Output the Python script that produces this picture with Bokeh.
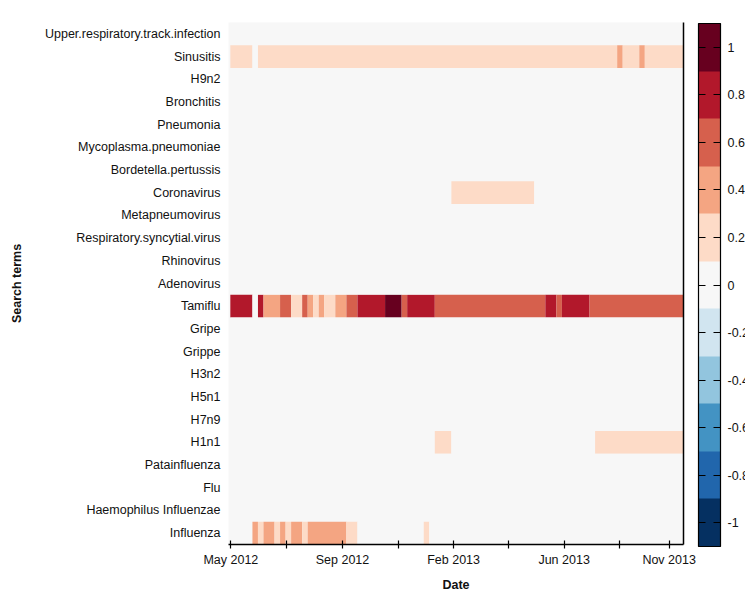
from bokeh.plotting import figure
from bokeh.models import (ColorBar, LinearColorMapper, FixedTicker, CustomJSTickFormatter,
                          FactorRange, Range1d, ColumnDataSource, LinearAxis)
from bokeh.embed import file_html
from bokeh.resources import INLINE

# ---------------- data ----------------
TERMS = ["Upper.respiratory.track.infection", "Sinusitis", "H9n2", "Bronchitis", "Pneumonia",
         "Mycoplasma.pneumoniae", "Bordetella.pertussis", "Coronavirus", "Metapneumovirus",
         "Respiratory.syncytial.virus", "Rhinovirus", "Adenovirus", "Tamiflu", "Gripe", "Grippe",
         "H3n2", "H5n1", "H7n9", "H1n1", "Patainfluenza", "Flu", "Haemophilus Influenzae",
         "Influenza"]
N_WEEKS = 82  # weekly values, May 2012 .. Dec 2013

# run-length encoded weekly values: (number of weeks, value)
SINUSITIS = [(4, 0.2), (1, 0.0), (65, 0.2), (1, 0.4), (3, 0.2), (1, 0.4), (7, 0.2)]
CORONAVIRUS = [(40, 0.0), (15, 0.2), (27, 0.0)]
TAMIFLU = [(4, 0.8), (1, 0.0), (1, 0.8), (3, 0.4), (2, 0.6), (2, 0.2), (1, 0.6), (1, 0.4),
           (1, 0.2), (1, 0.4), (2, 0.2), (2, 0.4), (2, 0.6), (5, 0.8), (3, 1.0), (1, 0.6),
           (5, 0.8), (20, 0.6), (2, 0.8), (1, 0.6), (5, 0.8), (17, 0.6)]
H1N1 = [(37, 0.0), (3, 0.2), (26, 0.0), (16, 0.2)]
INFLUENZA = [(4, 0.0), (1, 0.4), (1, 0.2), (2, 0.4), (1, 0.2), (1, 0.4), (1, 0.2), (2, 0.4),
             (1, 0.2), (7, 0.4), (2, 0.2), (12, 0.0), (1, 0.2), (46, 0.0)]
SERIES = {"Sinusitis": SINUSITIS, "Coronavirus": CORONAVIRUS, "Tamiflu": TAMIFLU,
          "H1n1": H1N1, "Influenza": INFLUENZA}

TICK_WEEKS = [-0.4, 9.7, 19.8, 29.9, 39.9, 49.9, 59.9, 69.9, 78.9]
TICK_LABELS = ["May 2012", "", "Sep 2012", "", "Feb 2013", "", "Jun 2013", "", "Nov 2013"]
CB_TICKS = [-1, -0.8, -0.6, -0.4, -0.2, 0, 0.2, 0.4, 0.6, 0.8, 1]
PALETTE = ["#053061", "#2166ac", "#4393c3", "#92c5de", "#d1e5f0", "#f7f7f7",
           "#fddbc7", "#f4a582", "#d6604d", "#b2182b", "#67001f"]

# one rectangle per run of equal weekly values
xs, widths, terms, values = [], [], [], []
for t in TERMS:
    runs = SERIES.get(t, [(N_WEEKS, 0.0)])
    start = 0
    for n, v in runs:
        xs.append(start + n / 2 - 0.5)
        widths.append(n)
        terms.append(t)
        values.append(v)
        start += n

src = ColumnDataSource(dict(x=xs, w=widths, term=terms, value=values))
mapper = LinearColorMapper(palette=PALETTE, low=-1.1, high=1.1)

FONT = "Liberation Sans"
FS = "12.5px"
TXT = "#111111"

p = figure(width=745, height=597,
           x_range=Range1d(-0.83, N_WEEKS - 0.5),
           y_range=FactorRange(*reversed(TERMS)),
           output_backend="svg", toolbar_location=None,
           min_border_left=228, min_border_right=62, min_border_top=22, min_border_bottom=53,
           x_axis_label="Date", y_axis_label="Search terms")
p.background_fill_color = "#f7f7f7"
p.border_fill_color = "white"
p.outline_line_color = None
p.grid.grid_line_color = None

p.rect(x="x", y="term", width="w", height=1, source=src,
       fill_color={"field": "value", "transform": mapper}, line_color=None)

# x axis
xa = p.xaxis[0]
xa.ticker = FixedTicker(ticks=TICK_WEEKS)
xa.formatter = CustomJSTickFormatter(
    args=dict(pos=TICK_WEEKS, labels=TICK_LABELS),
    code="const i = pos.findIndex(t => Math.abs(t - tick) < 1e-6); return i >= 0 ? labels[i] : '';")
xa.axis_line_color = "black"
xa.axis_line_width = 1.5
xa.major_tick_line_color = "black"
xa.major_tick_line_width = 1.2
xa.major_tick_in = 4
xa.major_tick_out = 4
xa.minor_tick_line_color = None
xa.major_label_standoff = 4
xa.major_label_text_font = FONT
xa.major_label_text_font_size = FS
xa.major_label_text_color = TXT
xa.axis_label_text_font = FONT
xa.axis_label_text_font_size = "12.5px"
xa.axis_label_text_font_style = "bold"
xa.axis_label_text_color = TXT
xa.axis_label_standoff = 8

# y axis
ya = p.yaxis[0]
ya.axis_line_color = None
ya.major_tick_line_color = None
ya.minor_tick_line_color = None
ya.major_tick_in = 0
ya.major_tick_out = 0
ya.major_label_standoff = 8
ya.major_label_text_font = FONT
ya.major_label_text_font_size = FS
ya.major_label_text_color = TXT
ya.axis_label_text_font = FONT
ya.axis_label_text_font_size = "12.5px"
ya.axis_label_text_font_style = "bold"
ya.axis_label_text_color = TXT
ya.axis_label_standoff = 18

# right frame line (axis without ticks)
ra = LinearAxis(ticker=FixedTicker(ticks=[]), major_tick_line_color=None,
                minor_tick_line_color=None, axis_line_color="black", axis_line_width=1.5)
p.add_layout(ra, "right")

# colour bar
cb = ColorBar(color_mapper=mapper, ticker=FixedTicker(ticks=CB_TICKS),
              formatter=CustomJSTickFormatter(code="return String(Math.round(tick * 10) / 10);"),
              width=22, height=523, padding=0, margin=0, location=(470, -2),
              bar_line_color="black", bar_line_width=1.2,
              major_tick_in=22, major_tick_out=0, major_tick_line_color="black",
              major_tick_line_dash="7 8", major_tick_line_width=1.2,
              minor_tick_line_color=None,
              label_standoff=7, major_label_text_font=FONT, major_label_text_font_size=FS,
              major_label_text_color=TXT,
              background_fill_alpha=0, border_line_color=None)
p.add_layout(cb, "center")

open("out.html", "w").write(file_html(p, INLINE))
